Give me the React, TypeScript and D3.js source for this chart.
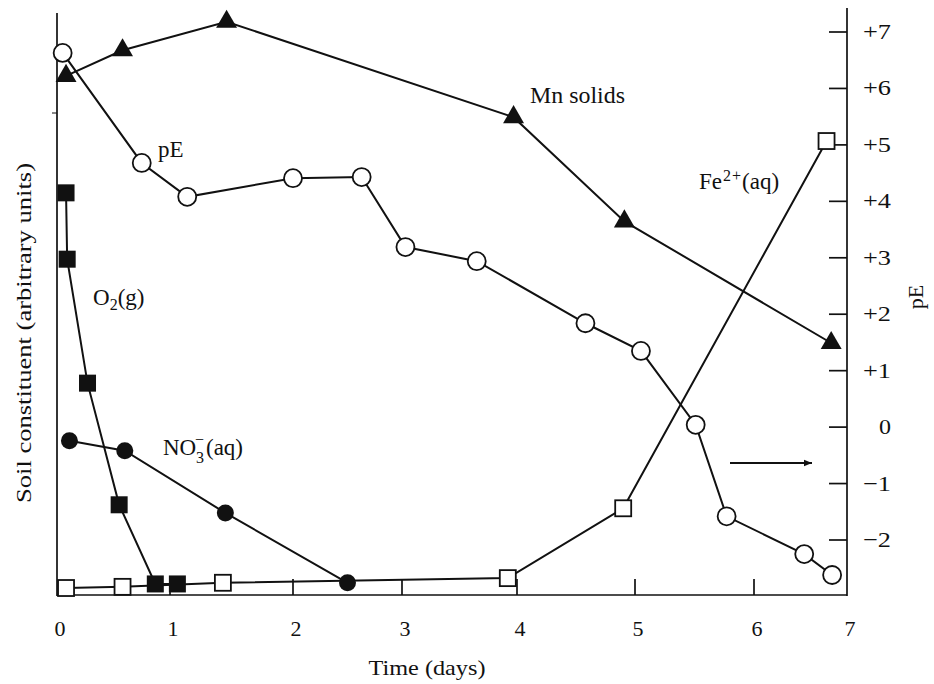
import React from "react";
import * as d3 from "d3";

// ---- data ----
const xTicks = [0, 1, 2, 3, 4, 5, 6, 7];
const pETicks = [-2, -1, 0, 1, 2, 3, 4, 5, 6, 7];

// pE (right axis)
const pEDays = [0.05, 0.75, 1.14, 2.0, 2.63, 3.03, 3.65, 4.58, 5.05, 5.51, 5.77, 6.54, 6.84];
const pEValues = [6.63, 4.68, 4.08, 4.41, 4.43, 3.19, 2.94, 1.84, 1.35, 0.04, -1.58, -2.25, -2.62];

// Soil constituents (arbitrary units, left axis)
const mnDays = [0.08, 0.58, 1.46, 3.97, 4.91, 6.83];
const mnValues = [89.2, 93.6, 98.5, 82.1, 64.2, 43.3];

const o2Days = [0.08, 0.09, 0.27, 0.55, 0.87, 1.06];
const o2Values = [69.1, 57.7, 36.4, 15.5, 1.9, 1.9];

const no3Days = [0.11, 0.6, 1.45, 2.5];
const no3Values = [26.5, 24.8, 14.1, 2.1];

const feDays = [0.08, 0.58, 1.43, 3.92, 4.9, 6.78];
const feValues = [1.2, 1.4, 2.1, 2.9, 14.9, 78.0];

const FONT = "'Liberation Serif', 'DejaVu Serif', serif";

export default function App() {
  const x = d3.scaleLinear().domain(xTicks).range([57, 170, 293, 402, 517, 635, 754, 847]);
  const yPE = d3.scaleLinear().domain([-2, 7]).range([540, 32]);
  const yU = d3.scaleLinear().domain([0, 100]).range([595, 13]);

  const zip = (xs: number[], ys: number[]) => xs.map((d, i) => [d, ys[i]] as [number, number]);
  const lineU = d3.line<[number, number]>().x((d) => x(d[0])).y((d) => yU(d[1]));
  const linePE = d3.line<[number, number]>().x((d) => x(d[0])).y((d) => yPE(d[1]));

  const pE = zip(pEDays, pEValues);
  const mn = zip(mnDays, mnValues);
  const o2 = zip(o2Days, o2Values);
  const no3 = zip(no3Days, no3Values);
  const fe = zip(feDays, feValues);

  const tri = d3.symbol().type(d3.symbolTriangle).size(190)();
  const sq = 16;

  const pELabel = (t: number) => (t > 0 ? `+${t}` : t < 0 ? `\u2212${-t}` : "0");

  return (
    <svg width={934} height={684} style={{ display: "block", position: "absolute", left: 0, top: 0, background: "#fff" }} fontFamily={FONT}>
      <rect width={934} height={684} fill="#fff" />
      <defs>
        <marker id="ah" viewBox="0 0 10 10" refX="10" refY="5" markerWidth="13" markerHeight="8" markerUnits="userSpaceOnUse" orient="auto">
          <path d="M0,1 L10,5 L0,9 Z" fill="#111" />
        </marker>
      </defs>

      {/* axes */}
      <g stroke="#111" strokeWidth={1.7} fill="none">
        <line x1={57} y1={13} x2={57} y2={596} />
        <line x1={57} y1={595} x2={847} y2={595} />
        <line x1={847} y1={8} x2={847} y2={596} />
        <line x1={52} y1={113} x2={57} y2={113} strokeWidth={1} />
        {xTicks.slice(1, -1).map((t) => (
          <line key={t} x1={x(t)} x2={x(t)} y1={595} y2={579} />
        ))}
        {pETicks.map((t) => (
          <line key={t} x1={847} x2={829} y1={yPE(t)} y2={yPE(t)} />
        ))}
      </g>

      {/* tick labels */}
      <g fontSize={22} fill="#111">
        {xTicks.map((t) => (
          <text key={t} x={x(t) + 3} y={636} textAnchor="middle">{t}</text>
        ))}
        {pETicks.map((t) => (
          <text key={t} x={891} y={yPE(t) + 7} textAnchor="end" textLength={t === 0 ? 12 : 28} lengthAdjust="spacingAndGlyphs">
            {pELabel(t)}
          </text>
        ))}
      </g>

      {/* axis titles */}
      <text x={427} y={675} fontSize={22} textAnchor="middle" textLength={117} lengthAdjust="spacingAndGlyphs" fill="#111">Time (days)</text>
      <text transform="translate(31,333) rotate(-90)" fontSize={22} textAnchor="middle" textLength={340} lengthAdjust="spacingAndGlyphs" fill="#111">Soil constituent (arbitrary units)</text>
      <text transform="translate(923,297) rotate(-90)" fontSize={22} textAnchor="middle" fill="#111">pE</text>

      {/* lines */}
      <g fill="none" stroke="#111" strokeWidth={2}>
        <path d={lineU(fe) || ""} />
        <path d={lineU(mn) || ""} />
        <path d={lineU(o2) || ""} />
        <path d={lineU(no3) || ""} />
        <path d={linePE(pE) || ""} />
      </g>

      {/* markers */}
      <g>
        {fe.map((d, i) => (
          <rect key={"fe" + i} x={x(d[0]) - sq / 2} y={yU(d[1]) - sq / 2} width={sq} height={sq} fill="#fff" stroke="#111" strokeWidth={1.8} />
        ))}
        {o2.map((d, i) => (
          <rect key={"o2" + i} x={x(d[0]) - 8.5} y={yU(d[1]) - 8.5} width={17} height={17} fill="#111" />
        ))}
        {no3.map((d, i) => (
          <circle key={"no" + i} cx={x(d[0])} cy={yU(d[1])} r={8.5} fill="#111" />
        ))}
        {mn.map((d, i) => (
          <path key={"mn" + i} d={tri || ""} transform={`translate(${x(d[0])},${yU(d[1])})`} fill="#111" />
        ))}
        {pE.map((d, i) => (
          <circle key={"pe" + i} cx={x(d[0])} cy={yPE(d[1])} r={9} fill="#fff" stroke="#111" strokeWidth={1.8} />
        ))}
      </g>

      {/* series labels */}
      <g fontSize={23} fill="#111">
        <text x={158} y={157}>pE</text>
        <text x={93} y={305}>
          O<tspan fontSize={16} dy={5}>2</tspan><tspan dy={-5}>(g)</tspan>
        </text>
        <text x={163} y={455}>NO</text>
        <text x={196} y={463} fontSize={16}>3</text>
        <text x={195} y={445} fontSize={16}>{"\u2212"}</text>
        <text x={206} y={455}>(aq)</text>
        <text x={530} y={103} textLength={95} lengthAdjust="spacingAndGlyphs">Mn solids</text>
        <text x={699} y={189}>
          Fe<tspan fontSize={16} dy={-8} dx={1}>2</tspan><tspan fontSize={16} dx={1}>+</tspan><tspan dy={8} dx={1}>(aq)</tspan>
        </text>
      </g>

      {/* arrow */}
      <line x1={730} y1={463} x2={812} y2={463} stroke="#111" strokeWidth={1.8} markerEnd="url(#ah)" />
    </svg>
  );
}
